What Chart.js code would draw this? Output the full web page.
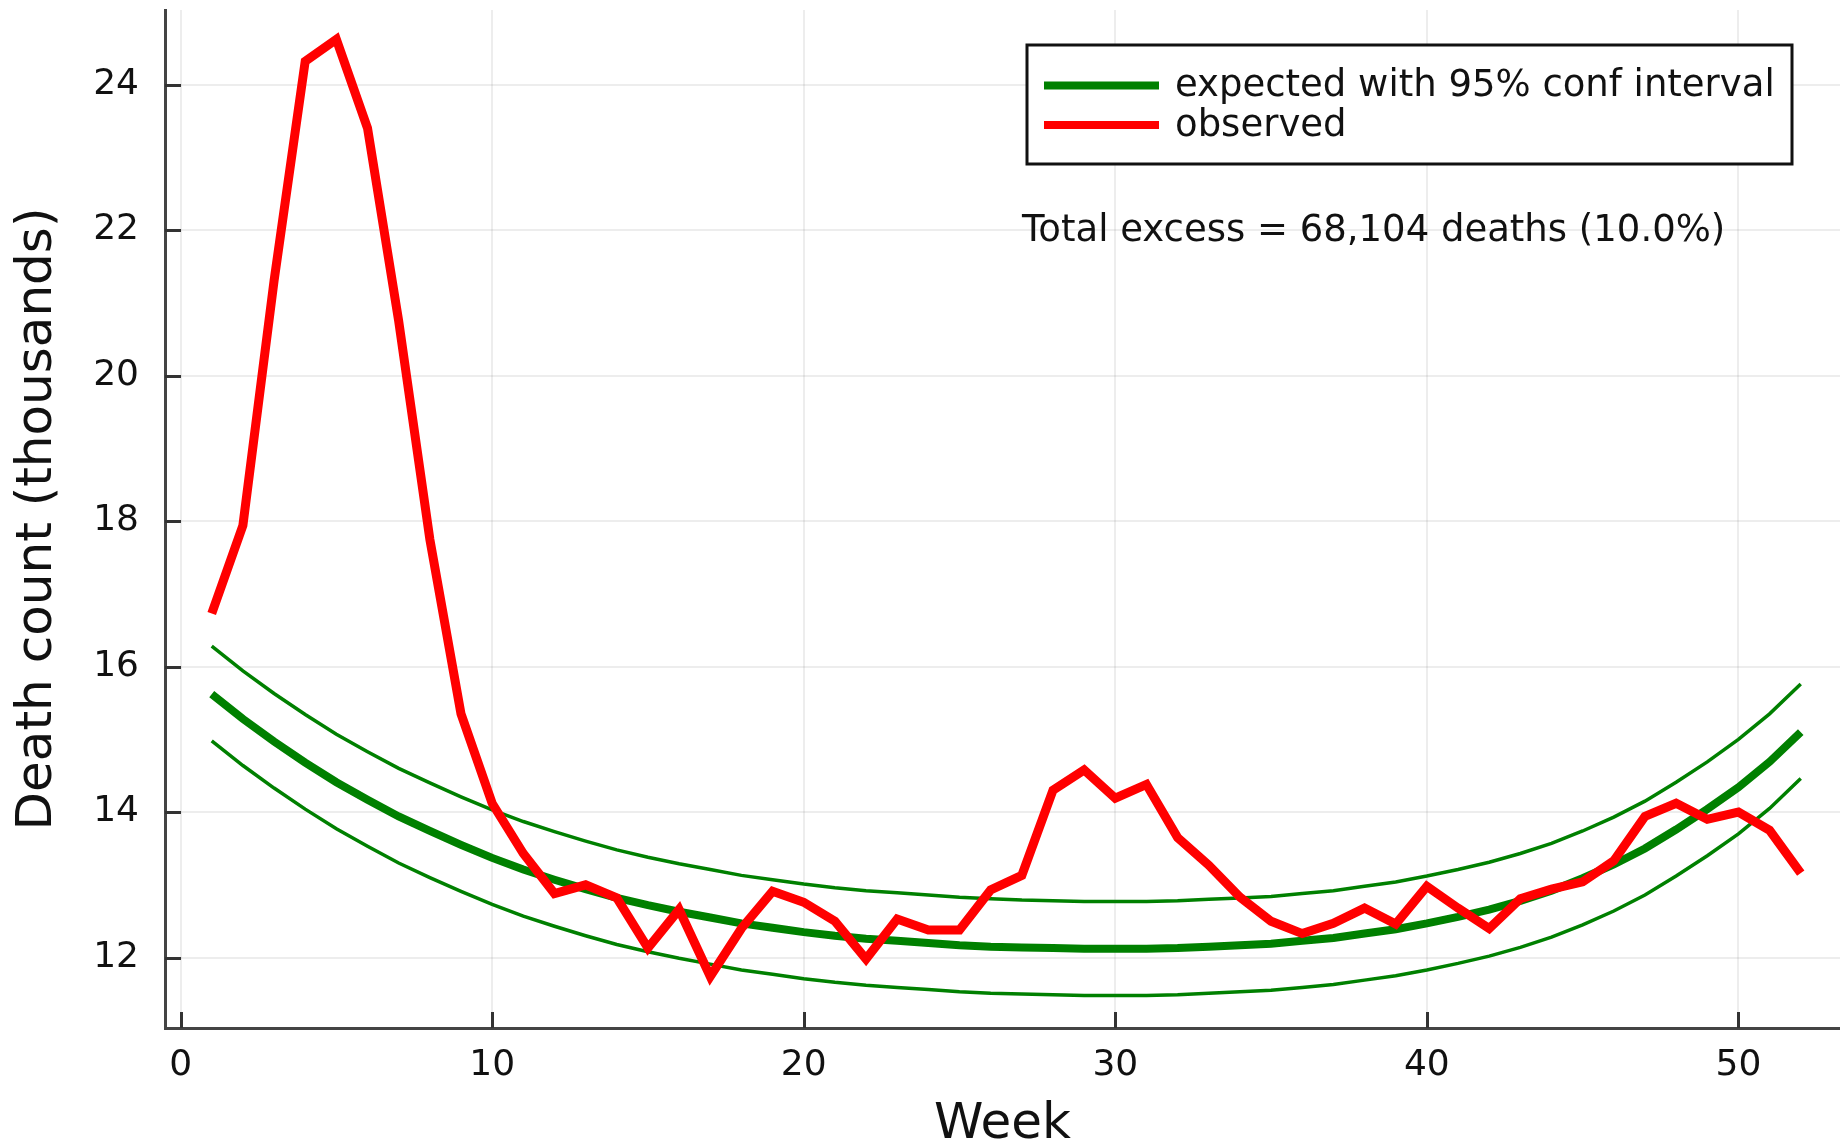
<!DOCTYPE html>
<html>
<head>
<meta charset="utf-8">
<script src="https://cdn.jsdelivr.net/npm/chart.js@4.4.1/dist/chart.umd.min.js"></script>
<style>
html,body{margin:0;padding:0;background:#ffffff;}
#wrap{width:1840px;height:1147px;}
</style>
</head>
<body>
<div id="wrap"><canvas id="c" width="1840" height="1147"></canvas></div>
<script>
// ---------------- data ----------------
const weeks = [1,2,3,4,5,6,7,8,9,10,11,12,13,14,15,16,17,18,19,20,21,22,23,24,25,26,27,28,29,30,31,32,33,34,35,36,37,38,39,40,41,42,43,44,45,46,47,48,49,50,51,52];
const observed = [16.73,17.94,21.3,24.32,24.62,23.4,20.75,17.75,15.35,14.12,13.43,12.88,13.0,12.82,12.13,12.66,11.74,12.4,12.91,12.76,12.5,11.98,12.53,12.38,12.38,12.93,13.13,14.3,14.58,14.19,14.38,13.65,13.27,12.83,12.5,12.33,12.47,12.68,12.46,12.98,12.68,12.4,12.81,12.94,13.04,13.33,13.94,14.12,13.9,14.0,13.75,13.16];
const expected = [15.62,15.28,14.97,14.68,14.41,14.17,13.94,13.74,13.55,13.37,13.21,13.07,12.94,12.82,12.72,12.63,12.55,12.47,12.41,12.35,12.30,12.26,12.23,12.20,12.17,12.15,12.14,12.13,12.12,12.12,12.12,12.13,12.15,12.17,12.19,12.23,12.27,12.33,12.39,12.47,12.56,12.66,12.78,12.92,13.09,13.28,13.50,13.76,14.04,14.34,14.69,15.10];
const upperCI = [16.28,15.94,15.63,15.34,15.07,14.83,14.60,14.40,14.21,14.03,13.87,13.73,13.60,13.48,13.38,13.29,13.21,13.13,13.07,13.01,12.96,12.92,12.89,12.86,12.83,12.81,12.79,12.78,12.77,12.77,12.77,12.78,12.80,12.82,12.84,12.88,12.92,12.98,13.04,13.12,13.21,13.31,13.43,13.57,13.74,13.93,14.15,14.41,14.69,15.00,15.35,15.76];
const lowerCI = [14.98,14.64,14.33,14.04,13.77,13.53,13.30,13.10,12.91,12.73,12.57,12.43,12.30,12.18,12.08,11.99,11.91,11.83,11.77,11.71,11.66,11.62,11.59,11.56,11.53,11.51,11.50,11.49,11.48,11.48,11.48,11.49,11.51,11.53,11.55,11.59,11.63,11.69,11.75,11.83,11.92,12.02,12.14,12.28,12.45,12.64,12.86,13.12,13.40,13.70,14.05,14.46];
const xTickValues = [0,10,20,30,40,50];
const yTickValues = [12,14,16,18,20,22,24];
const legendLabels = ['expected with 95% conf interval','observed'];
const annotationText = 'Total excess = 68,104 deaths (10.0%)';
const xAxisTitle = 'Week';
const yAxisTitle = 'Death count (thousands)';

// ---------------- styling ----------------
const FONT = "'DejaVu Sans', 'Liberation Sans', sans-serif";
const GREEN = 'rgb(0,128,0)';
const RED = 'rgb(255,0,0)';
const TEXT = '#111111';

const toXY = arr => weeks.map((w, i) => ({x: w, y: arr[i]}));

const decor = {
  id: 'decor',
  afterDraw(chart) {
    const ctx = chart.ctx;
    const ca = chart.chartArea;
    const xs = chart.scales.x, ys = chart.scales.y;
    ctx.save();
    // inward tick marks
    ctx.strokeStyle = '#333';
    ctx.lineWidth = 3;
    ys.ticks.forEach(t => {
      const p = Math.round(ys.getPixelForValue(t.value)) + 0.5;
      ctx.beginPath(); ctx.moveTo(ca.left, p); ctx.lineTo(ca.left + 16, p); ctx.stroke();
    });
    xs.ticks.forEach(t => {
      const p = Math.round(xs.getPixelForValue(t.value)) + 0.5;
      ctx.beginPath(); ctx.moveTo(p, ca.bottom); ctx.lineTo(p, ca.bottom - 16); ctx.stroke();
    });
    // legend box
    const bx = 1027, by = 45, bw = 765, bh = 119;
    ctx.fillStyle = '#ffffff';
    ctx.fillRect(bx, by, bw, bh);
    ctx.strokeStyle = '#111';
    ctx.lineWidth = 3;
    ctx.strokeRect(bx, by, bw, bh);
    const legendColors = [GREEN, RED];
    const rows = [85.5, 125];
    ctx.font = '37px ' + FONT;
    ctx.textBaseline = 'middle';
    ctx.textAlign = 'left';
    legendLabels.forEach((lab, i) => {
      ctx.strokeStyle = legendColors[i];
      ctx.lineWidth = 8;
      ctx.beginPath(); ctx.moveTo(1044, rows[i]); ctx.lineTo(1159, rows[i]); ctx.stroke();
      ctx.fillStyle = TEXT;
      ctx.fillText(lab, 1175, rows[i] + 1);
    });
    // annotation
    ctx.fillStyle = TEXT;
    ctx.font = '37px ' + FONT;
    ctx.fillText(annotationText, 1022, 231);
    ctx.restore();
  }
};

new Chart(document.getElementById('c'), {
  type: 'line',
  data: {
    datasets: [
      {label: legendLabels[1], data: toXY(observed), borderColor: RED, borderWidth: 9, pointRadius: 0, tension: 0, order: 0},
      {label: legendLabels[0], data: toXY(expected), borderColor: GREEN, borderWidth: 8, pointRadius: 0, tension: 0, order: 1},
      {label: 'upper', data: toXY(upperCI), borderColor: GREEN, borderWidth: 3.5, pointRadius: 0, tension: 0, order: 2},
      {label: 'lower', data: toXY(lowerCI), borderColor: GREEN, borderWidth: 3.5, pointRadius: 0, tension: 0, order: 3}
    ]
  },
  options: {
    responsive: false,
    animation: false,
    devicePixelRatio: 1,
    layout: {padding: {top: 10, right: 0, bottom: 0, left: 0}},
    plugins: {legend: {display: false}, tooltip: {enabled: false}},
    scales: {
      x: {
        type: 'linear', min: -0.5, max: 53.26,
        afterBuildTicks: s => { s.ticks = xTickValues.map(v => ({value: v})); },
        afterFit: s => { s.height = 119; s.paddingLeft = 0; s.paddingRight = 0; s.paddingTop = 0; s.paddingBottom = 0; },
        grid: {color: 'rgba(0,0,0,0.07)', lineWidth: 2, drawTicks: false},
        border: {display: true, color: '#444', width: 3},
        ticks: {font: {family: FONT, size: 36}, color: TEXT, padding: 16, maxRotation: 0, autoSkip: false, callback: v => String(v)},
        title: {display: true, text: xAxisTitle, color: TEXT, font: {family: FONT, size: 50, lineHeight: 0.86}, padding: 0}
      },
      y: {
        type: 'linear', min: 11.032, max: 25.024,
        afterBuildTicks: s => { s.ticks = yTickValues.map(v => ({value: v})); },
        afterFit: s => { s.width = 165; s.paddingTop = 0; s.paddingBottom = 0; s.paddingLeft = 0; s.paddingRight = 0; },
        grid: {color: 'rgba(0,0,0,0.07)', lineWidth: 2, drawTicks: false},
        border: {display: true, color: '#444', width: 3},
        ticks: {font: {family: FONT, size: 36}, color: TEXT, padding: 26, autoSkip: false, callback: v => String(v)},
        title: {display: true, text: yAxisTitle, color: TEXT, font: {family: FONT, size: 50, lineHeight: 1.2}, padding: {top: 8, bottom: 0}}
      }
    }
  },
  plugins: [decor]
});
</script>
</body>
</html>
